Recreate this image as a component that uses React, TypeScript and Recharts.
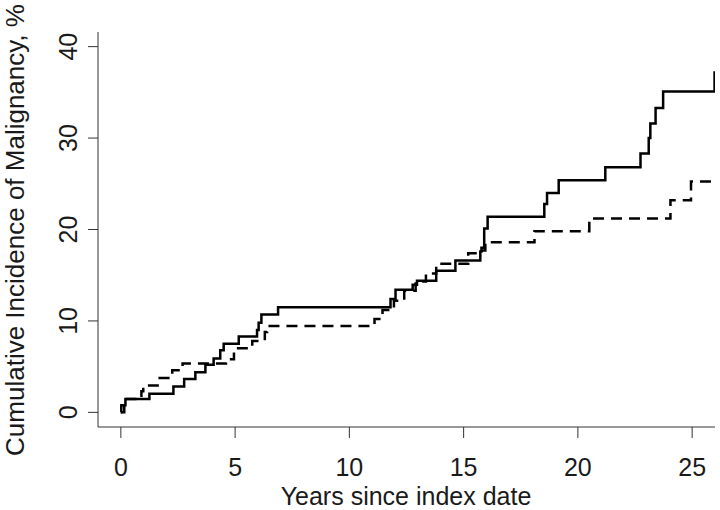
import { Line, LineChart, XAxis, YAxis } from "recharts";

// cumulative incidence (%) at each event time, two groups
const solidYears = [
  0, 0.02, 0.2, 1.25, 2.3, 2.77, 3.26, 3.7, 4.06, 4.35, 4.5, 5.16, 5.96, 6.03, 6.15, 6.88,
  11.8, 12.02, 12.77, 12.96, 13.8, 14.64, 15.73, 15.78, 15.9, 16.05, 18.53, 18.65, 19.16,
  21.2, 22.74, 23.1, 23.17, 23.4, 23.73, 25.98
];
const solidIncidence = [
  0, 0.77, 1.46, 2.05, 2.84, 3.65, 4.4, 5.2, 5.9, 6.8, 7.5, 8.3, 9.0, 9.8, 10.7, 11.5,
  12.4, 13.4, 13.95, 14.4, 15.5, 16.6, 17.6, 18.0, 20.1, 21.4, 22.8, 24.0, 25.4,
  26.8, 28.3, 30.0, 31.6, 33.3, 35.1, 37.3
];

const dashedYears = [
  0, 0.15, 0.9, 0.98, 1.7, 2.25, 2.7, 4.6, 4.95, 5.75, 6.3, 6.4, 11.1, 11.45, 11.95,
  12.4, 12.9, 13.35, 13.8, 15.2, 15.7, 15.95, 18.1, 20.5, 24.05, 24.95, 26
];
const dashedIncidence = [
  0, 1.46, 2.3, 2.95, 3.75, 4.6, 5.35, 5.8, 7.0, 7.8, 8.8, 9.45, 10.2, 11.2, 12.2,
  13.3, 14.3, 15.2, 16.25, 17.4, 17.7, 18.6, 19.8, 21.2, 23.2, 25.25, 25.25
];

const xTicks = [0, 5, 10, 15, 20, 25];
const yTicks = [0, 10, 20, 30, 40];

const solidData = solidYears.map((t, i) => ({ years: t, incidence: solidIncidence[i] }));
const dashedData = dashedYears.map((t, i) => ({ years: t, incidence: dashedIncidence[i] }));

const font = "'Liberation Sans', Arial, Helvetica, sans-serif";
const ink = "#1a1a1a";

function XTick(props: any) {
  const { x, payload } = props;
  return (
    <text x={x} y={476} textAnchor="middle" fontSize={25} fontFamily={font} fill={ink}>
      {payload.value}
    </text>
  );
}

function YTick(props: any) {
  const { y, payload } = props;
  return (
    <text
      x={77}
      y={y}
      transform={`rotate(-90, 77, ${y})`}
      textAnchor="middle"
      fontSize={25}
      fontFamily={font}
      fill={ink}
    >
      {payload.value}
    </text>
  );
}

export default function App() {
  return (
    <div style={{ position: "fixed", left: 0, top: 0, width: 720, height: 510, background: "#fff" }}>
      <LineChart width={720} height={510} margin={{ top: 32, right: 5, bottom: 0, left: 0 }}>
        <XAxis
          type="number"
          dataKey="years"
          domain={[-1, 26]}
          ticks={xTicks}
          allowDataOverflow
          height={83}
          tickSize={11}
          tick={XTick}
          stroke="#333"
          label={() => (
            <text x={406} y={505} textAnchor="middle" fontSize={25} fontFamily={font} fill={ink}>
              Years since index date
            </text>
          )}
        />
        <YAxis
          type="number"
          dataKey="incidence"
          domain={[-1.6, 41.6]}
          ticks={yTicks}
          allowDataOverflow
          width={98}
          tickSize={10}
          tick={YTick}
          stroke="#333"
          label={() => (
            <text
              x={24}
              y={230}
              transform="rotate(-90, 24, 230)"
              textAnchor="middle"
              fontSize={26}
              fontFamily={font}
              fill={ink}
            >
              Cumulative Incidence of Malignancy, %
            </text>
          )}
        />
        <Line
          data={solidData}
          dataKey="incidence"
          type="stepAfter"
          stroke="#000"
          strokeWidth={2.5}
          dot={false}
          activeDot={false}
          isAnimationActive={false}
        />
        <Line
          data={dashedData}
          dataKey="incidence"
          type="stepAfter"
          stroke="#000"
          strokeWidth={2.5}
          strokeDasharray="11 7"
          dot={false}
          activeDot={false}
          isAnimationActive={false}
        />
      </LineChart>
    </div>
  );
}
